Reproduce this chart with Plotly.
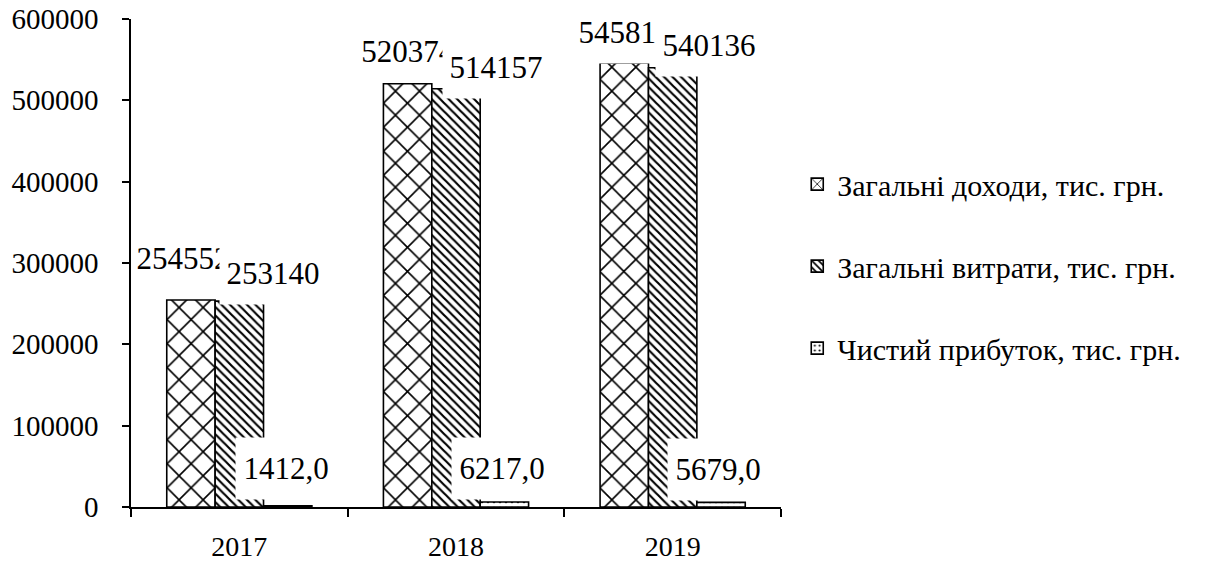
import plotly.graph_objects as go

# Financial results by year
years = ["2017", "2018", "2019"]
income = [254552, 520374, 545815]
expenses = [253140, 514157, 540136]
profit = [1412.0, 6217.0, 5679.0]

series_names = [
    "Загальні доходи, тис. грн.",
    "Загальні витрати, тис. грн.",
    "Чистий прибуток, тис. грн.",
]
y_ticks = [0, 100000, 200000, 300000, 400000, 500000, 600000]

FONT = "Liberation Serif"
patterns = [
    dict(shape="x", size=17, solidity=0.18),
    dict(shape="\\", size=6, solidity=0.36),
    dict(shape=".", size=6, solidity=0.15),
]

fig = go.Figure()
for name, vals, pat in zip(series_names, [income, expenses, profit], patterns):
    fig.add_trace(go.Bar(
        x=years, y=vals, name=name, legendgroup=name,
        marker=dict(
            color="white",
            line=dict(color="black", width=1.6),
            pattern=dict(fgcolor="black", bgcolor="white", fillmode="replace", **pat),
        ),
    ))

# Value labels: boxed, sitting above each bar (pixel offsets per series/year)
label_dx = [[-56, -48, -48], [34, 40, 36], [47, 46, 45]]
label_dy = [[41, 32, 31], [28, 21, 22], [37, 33, 33]]
label_w = [100, 106, 100]
texts = [
    [str(v) for v in income],
    [str(v) for v in expenses],
    [f"{v:.1f}".replace(".", ",") for v in profit],
]
values = [income, expenses, profit]
annotations = []
for s in range(3):
    for i in range(len(years)):
        annotations.append(dict(
            x=i, y=values[s][i], xref="x", yref="y",
            text=texts[s][i], showarrow=False,
            xshift=label_dx[s][i], yshift=label_dy[s][i],
            yanchor="middle", xanchor="center",
            width=label_w[s], height=61, valign="middle",
            bgcolor="white", borderpad=0,
            font=dict(family=FONT, size=31, color="black"),
        ))

fig.update_layout(
    width=1225, height=567,
    margin=dict(l=131, r=444, t=19, b=60),
    plot_bgcolor="white", paper_bgcolor="white",
    barmode="group", bargap=0.33, bargroupgap=0,
    font=dict(family=FONT, size=28, color="black"),
    showlegend=True,
    legend=dict(
        x=1.025, y=0.715, xanchor="left", yanchor="top",
        font=dict(family=FONT, size=30, color="black"),
        tracegroupgap=40, traceorder="grouped",
        bgcolor="rgba(0,0,0,0)", itemwidth=30,
    ),
    annotations=annotations,
)
fig.update_xaxes(
    type="category", range=[-0.5, 2.5], automargin=False,
    showline=True, linecolor="black", linewidth=1.5,
    ticks="outside", tickson="boundaries", ticklen=8, tickwidth=1.5, tickcolor="black",
    showgrid=False, zeroline=False,
    tickfont=dict(family=FONT, size=28, color="black"),
    ticklabelstandoff=14,
)
fig.update_yaxes(
    range=[0, 600000], tickvals=y_ticks, tickformat="d", automargin=False,
    showline=True, linecolor="black", linewidth=1.5,
    ticks="outside", ticklen=7, tickwidth=1.5, tickcolor="black",
    showgrid=False, zeroline=False,
    tickfont=dict(family=FONT, size=29, color="black"),
    ticklabelstandoff=18,
)

fig.write_html("out.html")
